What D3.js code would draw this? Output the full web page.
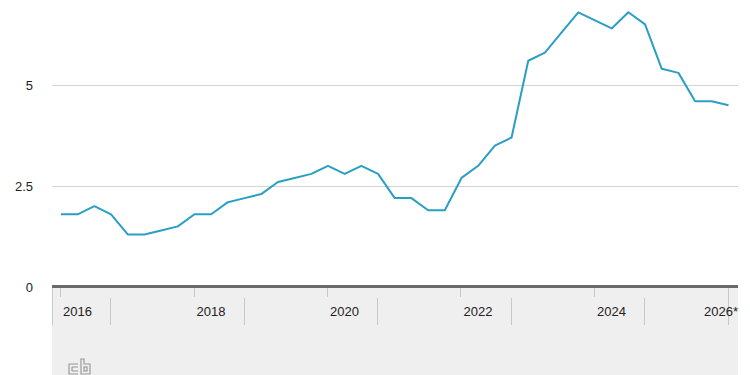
<!DOCTYPE html>
<html>
<head>
<meta charset="utf-8">
<script src="https://cdn.jsdelivr.net/npm/d3@7"></script>
<style>
  body { margin: 0; background: #fff; }
  svg { display: block; font-family: "Liberation Sans", Arial, sans-serif; }
</style>
</head>
<body>
<svg id="chart" width="750" height="375"></svg>
<script>
// quarterly values, 2016 Q1 .. 2026 Q1
const startYear = 2016;
const values = [
  1.8, 1.8, 2.0, 1.8,
  1.3, 1.3, 1.4, 1.5,
  1.8, 1.8, 2.1, 2.2,
  2.3, 2.6, 2.7, 2.8,
  3.0, 2.8, 3.0, 2.8,
  2.2, 2.2, 1.9, 1.9,
  2.7, 3.0, 3.5, 3.7,
  5.6, 5.8, 6.3, 6.8,
  6.6, 6.4, 6.8, 6.5,
  5.4, 5.3, 4.6, 4.6,
  4.5
];
const yTicks = [0, 2.5, 5];
const yTickLabels = ["0", "2.5", "5"];
const yearTicks = [2016, 2018, 2020, 2022, 2024, 2026];
const yearLabels = ["2016", "2018", "2020", "2022", "2024", "2026*"];

const data = values.map((v, i) => ({ t: startYear + i / 4, v }));

const svg = d3.select("#chart");
const left = 52, right = 738;
const x = d3.scaleLinear().domain([2016, 2026]).range([61, 728.5]);
const y = d3.scaleLinear().domain([0, 5]).range([287, 85]);

// bottom band
svg.append("rect")
  .attr("x", left).attr("y", 288)
  .attr("width", right - left).attr("height", 375 - 288)
  .attr("fill", "#efefef");

// gridlines
svg.append("g")
  .selectAll("line")
  .data(yTicks.filter(d => d > 0))
  .join("line")
  .attr("x1", left).attr("x2", right)
  .attr("y1", d => Math.round(y(d)) + 0.5).attr("y2", d => Math.round(y(d)) + 0.5)
  .attr("stroke", "#d4d4d4").attr("stroke-width", 1);

// y labels
svg.append("g")
  .selectAll("text")
  .data(yTicks)
  .join("text")
  .attr("x", 33)
  .attr("y", d => y(d) + 5)
  .attr("text-anchor", "end")
  .attr("font-size", 13)
  .attr("fill", "#222")
  .text((d, i) => yTickLabels[i]);

// short year ticks
const xg = svg.append("g");
xg.selectAll(".tick")
  .data(yearTicks)
  .join("line")
  .attr("class", "tick")
  .attr("x1", d => Math.round(x(d)) - 0.5).attr("x2", d => Math.round(x(d)) - 0.5)
  .attr("y1", 288)
  .attr("y2", d => d === 2026 ? 325 : 297)
  .attr("stroke", "#c8c8c8");

// separators between labels
const seps = yearTicks.slice(0, -1).map(d => d + 0.74);
xg.selectAll(".sep")
  .data(seps)
  .join("line")
  .attr("class", "sep")
  .attr("x1", d => Math.round(x(d)) + 0.5).attr("x2", d => Math.round(x(d)) + 0.5)
  .attr("y1", 298).attr("y2", 325)
  .attr("stroke", "#c8c8c8");

xg.append("line")
  .attr("x1", left + 0.5).attr("x2", left + 0.5)
  .attr("y1", 288).attr("y2", 325)
  .attr("stroke", "#c8c8c8");

// year labels
xg.selectAll(".lbl")
  .data(yearTicks)
  .join("text")
  .attr("class", "lbl")
  .attr("x", d => d === 2026 ? right : x(d) + 2)
  .attr("y", 316)
  .attr("text-anchor", d => d === 2026 ? "end" : "start")
  .attr("font-size", 13)
  .attr("fill", "#222")
  .text((d, i) => yearLabels[i]);

// zero axis line
svg.append("line")
  .attr("x1", left).attr("x2", right)
  .attr("y1", 286.5).attr("y2", 286.5)
  .attr("stroke", "#6a6a6a").attr("stroke-width", 3);

// series
const line = d3.line().x(d => x(d.t)).y(d => y(d.v));
svg.append("path")
  .datum(data)
  .attr("d", line)
  .attr("fill", "none")
  .attr("stroke", "#2a9fc4")
  .attr("stroke-width", 2)
  .attr("stroke-linejoin", "round");

// little "cb" logo
const logo = svg.append("g")
  .attr("transform", "translate(68,359)")
  .attr("fill", "none")
  .attr("stroke", "#9a9a9a")
  .attr("stroke-width", 1.2);
logo.append("path").attr("d", "M10,5 H1 V15 H10");
logo.append("path").attr("d", "M4,8 H10 M4,12 H10 M4,8 V12");
logo.append("path").attr("d", "M13,0 V15 H22 V5 H16 V0 Z");
logo.append("rect").attr("x", 16).attr("y", 8).attr("width", 3).attr("height", 4);
</script>
</body>
</html>
